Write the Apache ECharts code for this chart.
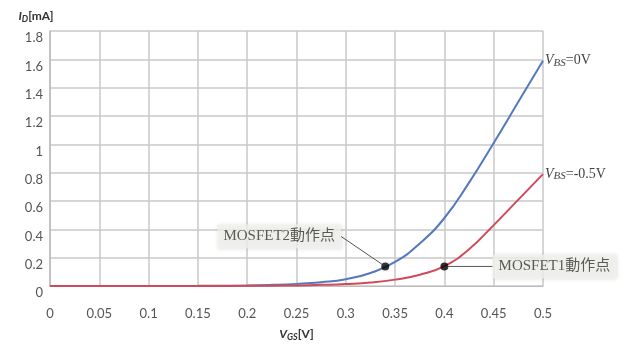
<!DOCTYPE html>
<html>
<head>
<meta charset="utf-8">
<script src="https://cdn.jsdelivr.net/npm/echarts@6/dist/echarts.min.js"></script>
<style>
html,body{margin:0;padding:0;background:#fff;}
#c{width:640px;height:347px;}
</style>
</head>
<body>
<div id="c"></div>
<script>
// Data
const vgs = [0, 0.05, 0.1, 0.15, 0.2, 0.225, 0.25, 0.275, 0.3, 0.325, 0.35, 0.375, 0.4, 0.425, 0.45, 0.475, 0.5];
const idVbs0 = [0, 0, 0, 0.001, 0.004, 0.008, 0.015, 0.027, 0.048, 0.092, 0.17, 0.30, 0.48, 0.73, 1.01, 1.30, 1.59];
const idVbsNeg = [0, 0, 0, 0, 0.001, 0.002, 0.004, 0.008, 0.014, 0.024, 0.045, 0.08, 0.14, 0.26, 0.43, 0.61, 0.79];
const opPoints = [[0.34, 0.138], [0.4, 0.138]];
const opNames = ['MOSFET2動作点', 'MOSFET1動作点'];
const xTicks = ['0', '0.05', '0.1', '0.15', '0.2', '0.25', '0.3', '0.35', '0.4', '0.45', '0.5'];
const yTicks = ['0', '0.2', '0.4', '0.6', '0.8', '1', '1.2', '1.4', '1.6', '1.8'];

const pair = (xs, ys) => xs.map((x, i) => [x, ys[i]]);
const tickFont = 'Lato, "Open Sans", sans-serif';
const serif = '"Liberation Serif", "DejaVu Serif", "Noto Sans CJK JP", serif';

const nameRich = {
  i: {fontFamily: tickFont, fontWeight: 'bold', fontStyle: 'italic', fontSize: 12, color: '#333', lineHeight: 16, verticalAlign: 'middle'},
  s: {fontFamily: tickFont, fontWeight: 'bold', fontStyle: 'italic', fontSize: 9, color: '#333', lineHeight: 16, verticalAlign: 'bottom'},
  n: {fontFamily: tickFont, fontWeight: 'bold', fontSize: 12, color: '#333', lineHeight: 16, verticalAlign: 'middle'}
};
const endRich = {
  v: {fontFamily: serif, fontStyle: 'italic', fontSize: 14, color: '#444', lineHeight: 16, verticalAlign: 'middle'},
  s: {fontFamily: serif, fontStyle: 'italic', fontSize: 11, color: '#444', lineHeight: 16, verticalAlign: 'bottom'},
  t: {fontFamily: serif, fontSize: 14, color: '#444', lineHeight: 16, verticalAlign: 'middle'}
};

const chart = echarts.init(document.getElementById('c'), null, {renderer: 'canvas'});
chart.setOption({
  animation: false,
  backgroundColor: '#fff',
  grid: {left: 50, right: 97, top: 31, bottom: 55, containLabel: false},
  xAxis: {
    type: 'value', min: 0, max: 0.5, interval: 0.05,
    name: '{i|V}{s|GS}{n|[V]}', nameLocation: 'middle', nameGap: 40,
    nameTextStyle: {rich: nameRich},
    axisLine: {show: true, lineStyle: {color: '#bbb', width: 1}},
    axisTick: {show: false},
    splitLine: {show: true, lineStyle: {color: '#c8c8c8', width: 1.5}},
    axisLabel: {
      margin: 21, color: '#555', fontFamily: tickFont, fontSize: 13,
      formatter: (v) => xTicks[Math.round(v / 0.05)]
    }
  },
  yAxis: {
    type: 'value', min: 0, max: 1.8, interval: 0.2,
    name: '{i|I}{s|D}{n|[mA]}', nameLocation: 'end', nameGap: 7,
    nameTextStyle: {padding: [0, 28, 0, 0], rich: nameRich},
    axisLine: {show: true, lineStyle: {color: '#bbb', width: 1.5}},
    axisTick: {show: false},
    splitLine: {show: true, lineStyle: {color: '#c8c8c8', width: 1.5}},
    axisLabel: {
      margin: 7, color: '#555', fontFamily: tickFont, fontSize: 13,
      verticalAlign: 'top', lineHeight: 14,
      formatter: (v) => yTicks[Math.round(v / 0.2)]
    }
  },
  series: [
    {
      type: 'line', name: 'VBS=0V', data: pair(vgs, idVbs0), smooth: 0.5, symbol: 'none',
      lineStyle: {color: '#5478c0', width: 2}, z: 3,
      endLabel: {show: true, distance: 2, formatter: '{v|V}{s|BS}{t|=0V}', rich: endRich}
    },
    {
      type: 'line', name: 'VBS=-0.5V', data: pair(vgs, idVbsNeg), smooth: 0.5, symbol: 'none',
      lineStyle: {color: '#d04a5a', width: 2}, z: 4,
      endLabel: {show: true, distance: 2, formatter: '{v|V}{s|BS}{t|=-0.5V}', rich: endRich}
    },
    {
      type: 'scatter', data: opPoints.map((p, i) => ({value: p, name: opNames[i]})),
      symbolSize: 8, itemStyle: {color: '#000'}, z: 10,
      label: {
        show: true, position: 'inside', formatter: (p) => p.name,
        fontFamily: serif, fontSize: 15, color: '#333',
        backgroundColor: '#f1f1ec', padding: [5, 6, 4, 6],
        shadowColor: 'rgba(0,0,0,0.15)', shadowBlur: 4, shadowOffsetX: 1, shadowOffsetY: 1
      },
      labelLayout: (params) => params.dataIndex === 0 ? {dx: -106, dy: -30} : {dx: 110, dy: 0},
      labelLine: {show: true, lineStyle: {color: '#555', width: 1}}
    }
  ]
});
</script>
</body>
</html>
